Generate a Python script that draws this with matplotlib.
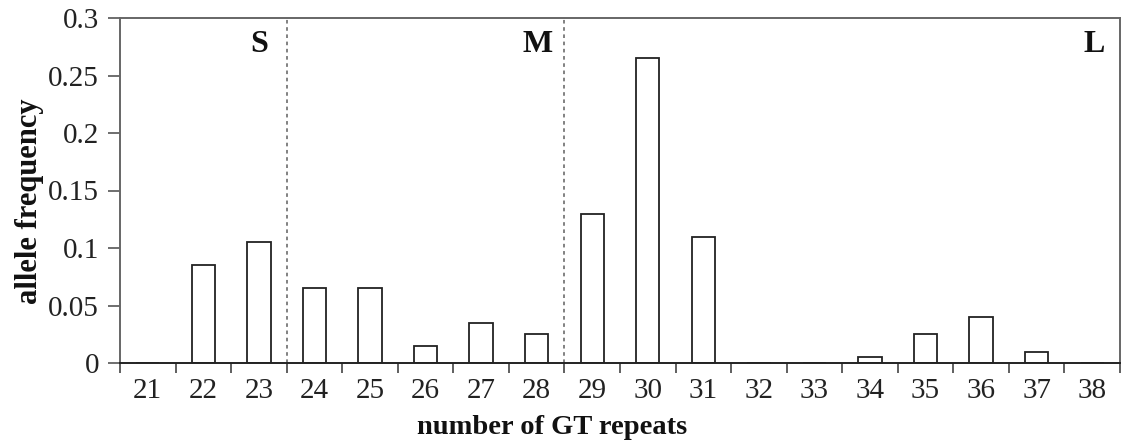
import matplotlib.pyplot as plt
import numpy as np

# allele frequency per number of GT repeats
repeats = [21, 22, 23, 24, 25, 26, 27, 28, 29, 30, 31, 32, 33, 34, 35, 36, 37, 38]
freq = [0, 0.085, 0.105, 0.065, 0.065, 0.015, 0.035, 0.025, 0.13, 0.265,
        0.11, 0, 0, 0.005, 0.025, 0.04, 0.01, 0]
# class borders (S | M | L) and class names
borders = [23.5, 28.5]
classes = ['S', 'M', 'L']
class_label_x = [23.16, 28.28, 38.23]
yticks = [0, 0.05, 0.1, 0.15, 0.2, 0.25, 0.3]
ytick_labels = ['0', '0.05', '0.1', '0.15', '0.2', '0.25', '0.3']

plt.rcParams['font.family'] = ['Liberation Serif', 'DejaVu Serif']

fig = plt.figure(figsize=(11.25, 4.47), dpi=100)
ax = fig.add_axes([120 / 1125, 1 - 363 / 447, 1000 / 1125, 345 / 447])

ax.bar(repeats, freq, width=0.42, facecolor='white', edgecolor='#222222',
       linewidth=1.3, zorder=2)

for b in borders:
    ax.axvline(b, color='#777777', linestyle=(0, (2, 2)), linewidth=1.3, zorder=1)

for name, x in zip(classes, class_label_x):
    ax.text(x, 0.277, name, ha='right', va='center', fontsize=23,
            fontweight='bold', color='#111111')

ax.set_xlim(repeats[0] - 0.5, repeats[-1] + 0.5)
ax.set_ylim(0, 0.3)

# ticks sit on the category borders, labels in the middle
edges = np.arange(repeats[0] - 0.5, repeats[-1] + 1, 1)
ax.set_xticks(edges)
ax.set_xticklabels([])
ax.set_xticks(repeats, minor=True)
ax.set_xticklabels([str(r) for r in repeats], minor=True)
ax.tick_params(axis='x', which='major', direction='out', length=7, width=1.2,
               color='#444444')
ax.tick_params(axis='x', which='minor', length=0, pad=11, labelsize=21,
               labelcolor='#222222')

ax.set_yticks(yticks)
ax.set_yticklabels(ytick_labels)
ax.tick_params(axis='y', direction='out', length=9, width=1.2, pad=6,
               labelsize=21, color='#555555', labelcolor='#222222')

for side in ['top', 'left', 'right']:
    ax.spines[side].set_color('#666666')
    ax.spines[side].set_linewidth(1.4)
ax.spines['bottom'].set_color('#222222')
ax.spines['bottom'].set_linewidth(1.4)

ax.set_xlabel('number of GT repeats', fontsize=20.5, fontweight='bold',
              color='#111111')
ax.xaxis.set_label_coords(0.432, -0.15)
ax.set_ylabel('allele frequency', fontsize=22, fontweight='bold',
              color='#111111')
ax.yaxis.set_label_coords(-0.076, 0.47)

fig.savefig('out.png', dpi=100, facecolor='white')
